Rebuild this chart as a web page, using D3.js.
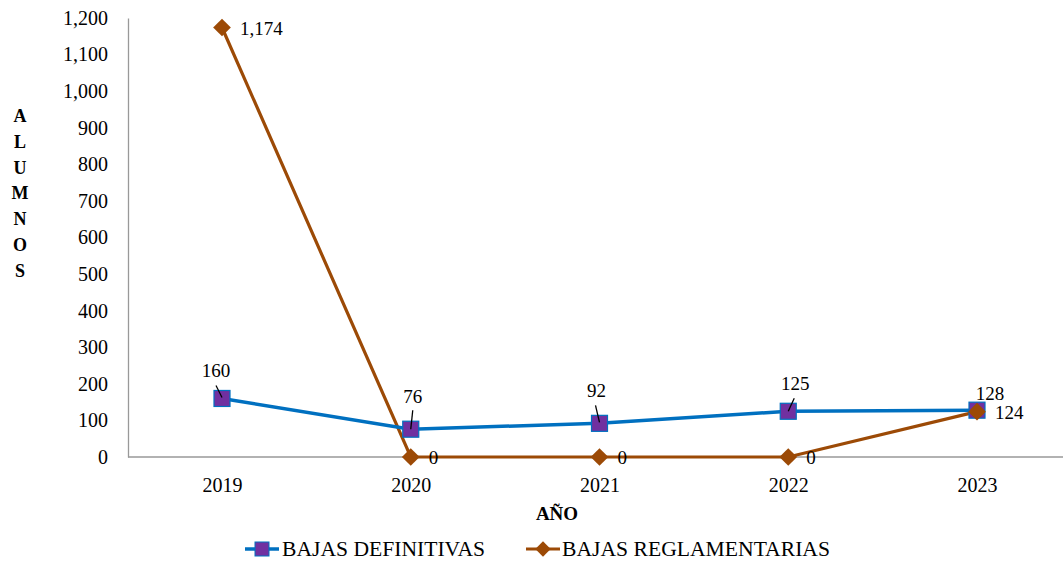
<!DOCTYPE html>
<html><head><meta charset="utf-8">
<script src="https://cdn.jsdelivr.net/npm/d3@7"></script>
<style>body{margin:0;background:#fff}svg{display:block}text{font-family:"Liberation Serif","Times New Roman",serif;fill:#000}</style>
</head><body><svg id="c" width="1063" height="565"></svg>
<script>
const years = ["2019","2020","2021","2022","2023"];
const definitivas = [160, 76, 92, 125, 128];
const reglamentarias = [1174, 0, 0, 0, 124];
const yTicks = [0,100,200,300,400,500,600,700,800,900,1000,1100,1200];
const seriesNames = ["BAJAS DEFINITIVAS", "BAJAS REGLAMENTARIAS"];

const svg = d3.select("#c");
const x = d3.scalePoint().domain(years).range([222, 977]);
const y = d3.scaleLinear().domain([0, 1200]).range([457, 18]);
const fmt = d3.format(",");
const blue = "#0070C0", purple = "#7030A0", brown = "#9C4A06";

// axes
const yAx = svg.append("g").attr("transform","translate(128,0)")
  .call(d3.axisLeft(y).tickValues(yTicks).tickFormat(fmt).tickSize(0).tickPadding(20));
yAx.select(".domain").attr("stroke","#999").attr("stroke-width",1.3);
yAx.selectAll("text").style("font-size","20px").style("font-family",'"Liberation Serif",serif');

const xAx = svg.append("g").attr("transform","translate(0,457)")
  .call(d3.axisBottom(x).tickSize(0).tickPadding(21));
xAx.select(".domain").attr("d","M128,0H1063").attr("stroke","#999").attr("stroke-width",1.3);
xAx.selectAll("text").style("font-size","20px").style("font-family",'"Liberation Serif",serif');

// axis titles
const letters = "ALUMNOS".split("");
svg.append("g").selectAll("text").data(letters).join("text")
  .attr("x", 20).attr("y", (d,i) => 122 + i*25.8).attr("text-anchor","middle")
  .style("font-size","18px").style("font-weight","bold").text(d => d);
svg.append("text").attr("x", 557).attr("y", 520).attr("text-anchor","middle")
  .style("font-size","19px").style("font-weight","bold").text("AÑO");

const line = d3.line().x((d,i)=>x(years[i])).y(d=>y(d));

// brown series
svg.append("path").datum(reglamentarias).attr("d", line).attr("fill","none")
  .attr("stroke", brown).attr("stroke-width", 3.2);
// blue series
svg.append("path").datum(definitivas).attr("d", line).attr("fill","none")
  .attr("stroke", blue).attr("stroke-width", 3.5);
svg.append("g").selectAll("rect").data(definitivas).join("rect")
  .attr("x",(d,i)=>x(years[i])-8).attr("y",d=>y(d)-8).attr("width",16).attr("height",16)
  .attr("fill", purple).attr("stroke", blue).attr("stroke-width",1.2);
const diamond = d3.symbol().type(d3.symbolDiamond2).size(200);
svg.append("g").selectAll("path").data(reglamentarias).join("path")
  .attr("d", diamond)
  .attr("transform",(d,i)=>`translate(${x(years[i])},${y(d)})`)
  .attr("fill", brown);

// blue labels with leader lines (label offset dx, dy; leader from -> to)
const blueLab = [
  {dx:-6, dy:-21, l:[-6,-13,0,-1]},
  {dx:2, dy:-26, l:[2,-19,0,0]},
  {dx:-3, dy:-26, l:[-4,-18,0,-1]},
  {dx:7, dy:-21, l:[6,-13,0,0]},
  {dx:13, dy:-10, l:null}
];
const gl = svg.append("g");
definitivas.forEach((v,i)=>{
  const cx = x(years[i]), cy = y(v), o = blueLab[i];
  if(o.l) gl.append("line").attr("x1",cx+o.l[0]).attr("y1",cy+o.l[1]).attr("x2",cx+o.l[2]).attr("y2",cy+o.l[3])
    .attr("stroke","#000").attr("stroke-width",1.3);
  gl.append("text").attr("x",cx+o.dx).attr("y",cy+o.dy).attr("text-anchor","middle")
    .style("font-size","19px").text(fmt(v));
});
// brown labels to the right
svg.append("g").selectAll("text").data(reglamentarias).join("text")
  .attr("x",(d,i)=>x(years[i])+18).attr("y",d=>y(d)+7)
  .style("font-size","19px").text(d=>fmt(d));

// legend
const lg = svg.append("g");
lg.append("line").attr("x1",245).attr("x2",279).attr("y1",549).attr("y2",549).attr("stroke",blue).attr("stroke-width",3.5);
lg.append("rect").attr("x",255).attr("y",542).attr("width",14).attr("height",14).attr("fill",purple).attr("stroke",blue);
lg.append("text").attr("x",282).attr("y",556).style("font-size","20px")
  .attr("textLength",203).attr("lengthAdjust","spacingAndGlyphs").text(seriesNames[0]);
lg.append("line").attr("x1",526).attr("x2",560).attr("y1",549).attr("y2",549).attr("stroke",brown).attr("stroke-width",3.2);
lg.append("path").attr("d",d3.symbol().type(d3.symbolDiamond2).size(150)).attr("transform","translate(543,549)").attr("fill",brown);
lg.append("text").attr("x",562).attr("y",556).style("font-size","20px")
  .attr("textLength",268).attr("lengthAdjust","spacingAndGlyphs").text(seriesNames[1]);
</script></body></html>
